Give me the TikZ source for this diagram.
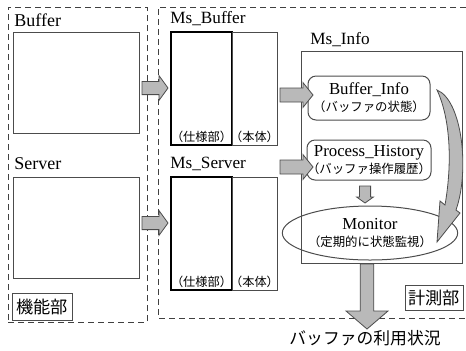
\documentclass[tikz,border=0pt]{standalone}
\usepackage{fontspec}
\setmainfont{Liberation Serif}
\newfontfamily\jp{Noto Sans CJK JP}
\usetikzlibrary{calc,shapes.geometric}

\tikzset{
  wh/.style 2 args={minimum width=#1, minimum height=#2},
  box/.style={draw=black!70, line width=0.5pt, inner sep=0pt},
  specbox/.style={draw, line width=1.1pt, inner sep=0pt},
  dbox/.style={draw=black!75, densely dashed, line width=0.45pt},
  lab/.style={anchor=west, inner sep=0pt, font=\fontsize{9}{10}\selectfont},
  small/.style={inner sep=0pt, font=\jp\fontsize{6.1}{7}\selectfont},
  fatcol/.style={fill=gray!55, draw=black!70, line width=0.4pt},
  % block arrow drawn as a to path: shaft half width, head half width, head length
  fat/.style n args={3}{fatcol, to path={
    ($(\tikztostart)!#1!90:(\tikztotarget)$)
    -- ($($(\tikztotarget)!#3!(\tikztostart)$)!#1!90:(\tikztotarget)$)
    -- ($($(\tikztotarget)!#3!(\tikztostart)$)!#2!90:(\tikztotarget)$)
    -- (\tikztotarget)
    -- ($($(\tikztotarget)!#3!(\tikztostart)$)!#2!-90:(\tikztotarget)$)
    -- ($($(\tikztotarget)!#3!(\tikztostart)$)!#1!-90:(\tikztotarget)$)
    -- ($(\tikztostart)!#1!-90:(\tikztotarget)$) -- cycle}},
}

\begin{document}
\begin{tikzpicture}[x=0.5pt,y=-0.5pt]
\useasboundingbox (0,0) rectangle (466,350);

% function part
\node[dbox, wh={69.5pt}{157.5pt}] (func) at (77.5,164.5) {};
\node[lab] (buflab) at (14,20) {Buffer};
\node[box, wh={63pt}{50.5pt}] (buf) at (76,82.5) {};
\node[lab] (srvlab) at (14,164) {Server};
\node[box, wh={63pt}{50.5pt}] (srv) at (76,227.5) {};
\node[box, wh={30pt}{13.5pt}, font=\jp\fontsize{8.6}{9}\selectfont] (kinou) at (42,306.5) {機能部};

% measurement part
\draw[dbox] (466,7) -| (158,318) -- (466,318);

\node[lab, font=\fontsize{8.6}{10}\selectfont] (msblab) at (170,19) {Ms\_Buffer};
\node[specbox, wh={30.5pt}{56.5pt}] (msbspec) at (201.5,88.5) {};
\node[box, wh={22.5pt}{56.5pt}] (msbbody) at (254.5,88.5) {};
\node[small] (msbspect) at (201.5,137) {（仕様部）};
\node[small] (msbbodyt) at (254.5,137) {（本体）};

\node[lab, font=\fontsize{8.6}{10}\selectfont] (msslab) at (170,164) {Ms\_Server};
\node[specbox, wh={30.5pt}{56.5pt}] (msspec) at (201.5,233.5) {};
\node[box, wh={22.5pt}{56.5pt}] (msbody) at (254.5,233.5) {};
\node[small] (msspect) at (201.5,282) {（仕様部）};
\node[small] (msbodyt) at (254.5,282) {（本体）};

\node[lab, font=\fontsize{8.6}{10}\selectfont] (infolab) at (310,40) {Ms\_Info};
\node[box, wh={80.5pt}{106pt}] (info) at (381.5,157) {};
\node[box, rounded corners=4pt, wh={61pt}{22pt}, align=center, font=\fontsize{8.4}{9}\selectfont]
  (binfo) at (369,98) {Buffer\_Info\\[-0.5pt]{\jp\fontsize{6.2}{7}\selectfont （バッファの状態）}};
\node[box, rounded corners=4pt, wh={61pt}{20pt}, align=center, font=\fontsize{8.4}{9}\selectfont]
  (phist) at (369,160) {Process\_History\\[-0.5pt]{\jp\fontsize{6.2}{7}\selectfont （バッファ操作履歴）}};
\node[box, ellipse, wh={63pt}{27pt}, align=center, font=\fontsize{8.4}{9}\selectfont]
  (mon) at (370,233) {Monitor\\[-0.5pt]{\jp\fontsize{6.2}{7}\selectfont （定期的に状態監視）}};
\node[box, wh={29pt}{12.5pt}, font=\jp\fontsize{8.6}{9}\selectfont] (keisoku) at (434,297.5) {計測部};
\node[inner sep=0pt, font=\jp\fontsize{8.4}{9}\selectfont] (usage) at (365,338) {バッファの利用状況};

% arrow ends
\coordinate (a1s) at (142,88);  \coordinate (a1e) at (168,88);
\coordinate (a2s) at (142,223); \coordinate (a2e) at (168,223);
\coordinate (a3s) at (280,95);  \coordinate (a3e) at (313,95);
\coordinate (a4s) at (280,167); \coordinate (a4e) at (313,167);
\coordinate (a5s) at (365,186); \coordinate (a5e) at (365,203);
\coordinate (a6s) at (367,264); \coordinate (a6e) at (367,329);

\path[fat={3.3pt}{6.2pt}{4.5pt}] (a1s) to (a1e);
\path[fat={3.3pt}{6.2pt}{4.5pt}] (a2s) to (a2e);
\path[fat={3.5pt}{6.2pt}{5pt}] (a3s) to (a3e);
\path[fat={3.5pt}{6.2pt}{5pt}] (a4s) to (a4e);
\path[fat={2.8pt}{4.2pt}{3pt}] (a5s) to (a5e);
\path[fat={3.4pt}{10.5pt}{9pt}] (a6s) to (a6e);

% curved arrow on the right
\filldraw[fatcol] (437,90) .. controls (462,100) and (470,170) .. (456,210)
  -- (460,213) -- (437,242) -- (440,201) -- (445,205)
  .. controls (452,165) and (451,120) .. (437,90) -- cycle;
\end{tikzpicture}
\end{document}
